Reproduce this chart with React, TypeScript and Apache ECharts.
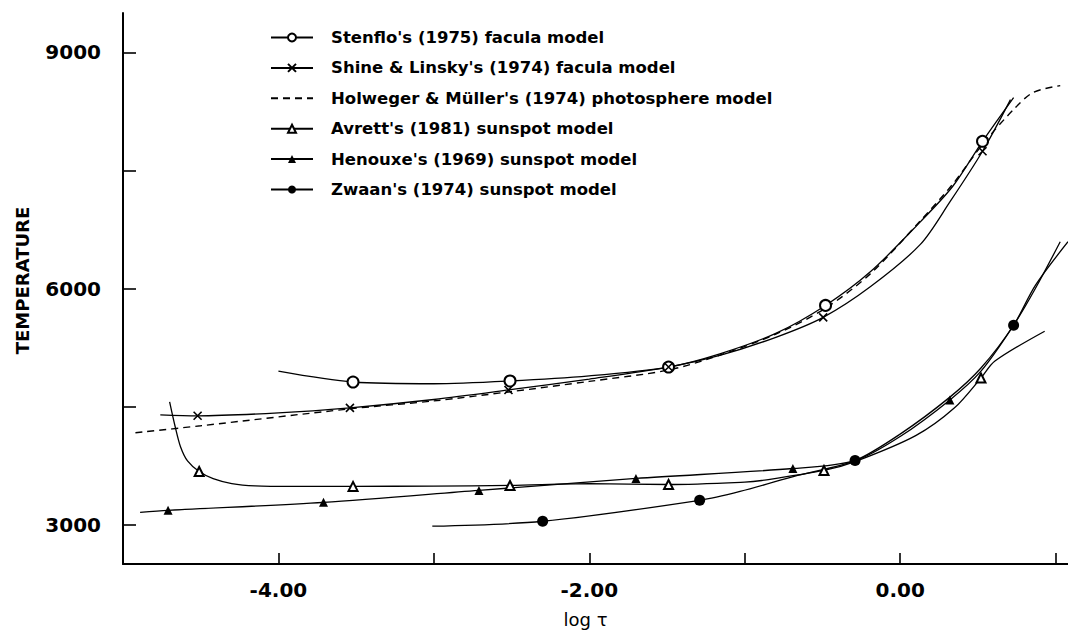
import { useEffect, useRef } from "react";
import * as echarts from "echarts";

// Axis ticks / labels
const xTicks = [-4, -3, -2, -1, 0, 1];
const xLabels = [-4, -2, 0];
const yTicks = [3000, 4500, 6000, 7500, 9000];
const yLabels = [3000, 6000, 9000];

// Series names
const seriesNames = [
  "Stenflo's (1975) facula model",
  "Shine & Linsky's (1974) facula model",
  "Holweger & Müller's (1974) photosphere model",
  "Avrett's (1981) sunspot model",
  "Henouxe's (1969) sunspot model",
  "Zwaan's (1974) sunspot model",
];

// [log tau, temperature]
const stenflo = [
  [-4.0, 4950], [-3.52, 4812], [-3.0, 4790], [-2.51, 4825], [-2.0, 4890],
  [-1.49, 5002], [-1.16, 5170], [-0.8, 5430], [-0.48, 5785], [-0.19, 6215],
  [0.13, 6847], [0.34, 7302], [0.53, 7870], [0.73, 8426],
];
const stenfloMarks = [1, 3, 5, 8, 12];

const shine = [
  [-4.76, 4395], [-4.52, 4383], [-4.0, 4420], [-3.54, 4484], [-3.0, 4590],
  [-2.52, 4711], [-2.0, 4850], [-1.49, 5002], [-1.16, 5150], [-0.8, 5380],
  [-0.495, 5634], [-0.19, 6025], [0.13, 6560], [0.32, 7100], [0.53, 7744],
  [0.71, 8400],
];
const shineMarks = [1, 3, 5, 7, 10, 14];

const holweger = [
  [-4.92, 4168], [-4.5, 4256], [-3.54, 4471], [-3.0, 4572], [-2.52, 4686],
  [-2.0, 4820], [-1.49, 4964], [-1.16, 5154], [-0.8, 5420], [-0.48, 5750],
  [-0.19, 6190], [0.13, 6860], [0.34, 7330], [0.53, 7830], [0.73, 8275],
  [0.855, 8490], [1.03, 8578],
];

const avrett = [
  [-4.70, 4560], [-4.665, 4250], [-4.63, 3990], [-4.585, 3810], [-4.51, 3675],
  [-4.42, 3585], [-4.30, 3522], [-4.15, 3492], [-3.9, 3485], [-3.52, 3486],
  [-3.0, 3490], [-2.51, 3498], [-2.0, 3520], [-1.49, 3510], [-1.0, 3540],
  [-0.89, 3561], [-0.49, 3688], [-0.29, 3800], [0.1, 4130], [0.35, 4484],
  [0.52, 4863], [0.61, 5078], [0.93, 5457],
];
const avrettMarks = [4, 9, 11, 13, 16, 20];

const henouxe = [
  [-4.89, 3157], [-4.71, 3182], [-3.71, 3283], [-2.71, 3435], [-1.70, 3587],
  [-0.69, 3713], [-0.29, 3814], [0.0, 4120], [0.32, 4585], [0.52, 4950],
  [0.73, 5533], [0.87, 6000], [1.03, 6594],
];
const henouxeMarks = [1, 2, 3, 4, 5, 8];

const zwaan = [
  [-3.01, 2980], [-2.30, 3043], [-1.29, 3309], [-1.03, 3422], [-0.66, 3625],
  [-0.29, 3814], [0.0, 4150], [0.32, 4620], [0.52, 4990], [0.73, 5533],
  [0.87, 6040], [1.08, 6594],
];
const zwaanMarks = [1, 2, 5, 9];

const FONT = "DejaVu Sans";

function pts(points: number[][], marks: number[]) {
  return points.map((p, i) =>
    marks.includes(i) ? { value: p } : { value: p, symbol: "none" }
  );
}

export default function App() {
  const ref = useRef<HTMLDivElement>(null);

  useEffect(() => {
    if (!ref.current) return;
    const chart = echarts.init(ref.current, undefined, { renderer: "svg" });

    const lineStyle = { color: "#000", width: 1.3 };
    const base = {
      type: "line",
      smooth: 0.3,
      showAllSymbol: true,
      lineStyle,
      z: 3,
    };

    chart.setOption({
      animation: false,
      backgroundColor: "#fff",
      grid: { left: 123, top: 13, width: 945, height: 554, containLabel: false },
      legend: {
        orient: "vertical",
        left: 265,
        top: 24,
        itemWidth: 42,
        itemHeight: 10,
        itemGap: 13.4,
        selectedMode: false,
        textStyle: {
          fontFamily: FONT,
          fontSize: 16.5,
          fontWeight: "bold",
          color: "#000",
          lineHeight: 16,
          padding: [0, 0, 0, 13],
        },
        data: [
          seriesNames[0],
          seriesNames[1],
          { name: seriesNames[2], itemStyle: { opacity: 0 } },
          seriesNames[3],
          seriesNames[4],
          seriesNames[5],
        ],
      },
      xAxis: {
        type: "value",
        min: -5,
        max: 1.08,
        name: "log τ",
        nameLocation: "middle",
        nameGap: 46,
        nameTextStyle: {
          fontFamily: FONT,
          fontSize: 18,
          color: "#000",
          padding: [0, 20, 0, 0],
        },
        axisLine: { show: true, onZero: false, lineStyle: { color: "#000", width: 2 } },
        axisTick: {
          show: true,
          inside: true,
          length: 11,
          customValues: xTicks,
          lineStyle: { color: "#000", width: 1.6 },
        },
        axisLabel: {
          customValues: xLabels,
          margin: 16,
          fontFamily: FONT,
          fontSize: 20,
          fontWeight: "bold",
          color: "#000",
          formatter: (v: number) => v.toFixed(2),
        },
        splitLine: { show: false },
      },
      yAxis: {
        type: "value",
        min: 2500,
        max: 9500,
        name: "TEMPERATURE",
        nameLocation: "middle",
        nameRotate: 90,
        nameGap: 92,
        nameTextStyle: {
          fontFamily: FONT,
          fontSize: 18,
          fontWeight: "bold",
          color: "#000",
          padding: [0, 0, 0, 16],
        },
        axisLine: { show: true, onZero: false, lineStyle: { color: "#000", width: 2 } },
        axisTick: {
          show: true,
          inside: true,
          length: 13,
          customValues: yTicks,
          lineStyle: { color: "#000", width: 1.6 },
        },
        axisLabel: {
          customValues: yLabels,
          margin: 22,
          fontFamily: FONT,
          fontSize: 20,
          fontWeight: "bold",
          color: "#000",
          formatter: (v: number) => String(v),
        },
        splitLine: { show: false },
      },
      series: [
        {
          ...base,
          name: seriesNames[0],
          data: pts(stenflo, stenfloMarks),
          symbol: "emptyCircle",
          symbolSize: 11,
          itemStyle: { color: "#000", borderWidth: 1.4 },
        },
        {
          ...base,
          name: seriesNames[1],
          data: pts(shine, shineMarks),
          symbol: "path://M0,0L10,10M10,0L0,10",
          symbolSize: 8,
          itemStyle: { color: "#000", borderColor: "#000", borderWidth: 1.6 },
        },
        {
          ...base,
          name: seriesNames[2],
          data: holweger.map((p) => ({ value: p })),
          symbol: "none",
          lineStyle: { color: "#000", width: 1.4, type: [7, 5] },
          itemStyle: { color: "#000" },
        },
        {
          ...base,
          name: seriesNames[3],
          data: pts(avrett, avrettMarks),
          symbol: "emptyTriangle",
          symbolSize: 9,
          itemStyle: { color: "#000", borderWidth: 1.4 },
        },
        {
          ...base,
          name: seriesNames[4],
          data: pts(henouxe, henouxeMarks),
          symbol: "triangle",
          symbolSize: 9,
          itemStyle: { color: "#000", borderWidth: 0 },
        },
        {
          ...base,
          name: seriesNames[5],
          data: pts(zwaan, zwaanMarks),
          symbol: "circle",
          symbolSize: 11,
          itemStyle: { color: "#000", borderWidth: 0 },
        },
      ],
    });

    return () => chart.dispose();
  }, []);

  return (
    <div
      ref={ref}
      style={{
        position: "absolute",
        left: 0,
        top: 0,
        width: 1068,
        height: 633,
        background: "#fff",
      }}
    />
  );
}
